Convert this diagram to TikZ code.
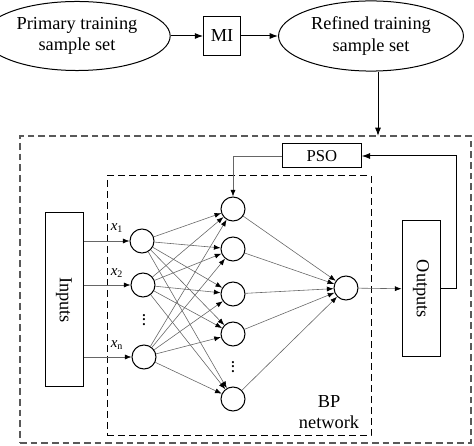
\documentclass[tikz,border=0pt]{standalone}
\usepackage{fontspec}
\setmainfont{Liberation Serif}
\usetikzlibrary{shapes.geometric,arrows.meta}
\newcommand{\dotcol}{\vbox{\baselineskip=2.8pt\lineskiplimit=-5pt\hbox{\textbf{.}}\hbox{\textbf{.}}\hbox{\textbf{.}}}}

\begin{document}
\begin{tikzpicture}[x=0.6pt,y=-0.6pt,font=\fontsize{11}{13}\selectfont,
    neuron/.style={draw,circle,inner sep=0pt,minimum size=14.4pt,line width=0.6pt},
    set/.style={draw,ellipse,align=center,minimum width=90pt,minimum height=40.8pt,line width=0.6pt},
    blk/.style={draw,line width=0.6pt,inner sep=0pt},
    link/.style={-{Latex[length=4pt,width=3pt,black]},gray!80!black,line width=0.35pt},
    flow/.style={-{Latex[length=5pt,width=3.6pt]},line width=0.6pt}]
    \useasboundingbox (0,0) rectangle (474,446);
    % data preparation
    \node[set] (p) at (77,36) {Primary training\\sample set};
    \node[blk,minimum width=22pt,minimum height=23pt] (mi) at (222,36) {MI};
    \node[set] (r) at (371,36) {Refined training\\sample set};
    \draw[flow] (p) to (mi);
    \draw[flow] (mi) to (r);
    % frames
    \node[draw,dashed,dash pattern=on 4pt off 2.4pt,line width=1.1pt,gray!70!black,minimum width=270.6pt,minimum height=184.2pt] (frame) at (245.5,289.5) {};
    \node[draw,dashed,dash pattern=on 4pt off 2.6pt,line width=0.6pt,minimum width=158.4pt,minimum height=156pt] (bp) at (239,306) {};
    \coordinate (top) at (378,136);
    \draw[flow] (r.south -| top) to (top);
    \node[align=center] (bpl) at (329,412) {BP\\network};
    % boxes
    \node[blk,minimum width=22.8pt,minimum height=104.4pt] (in) at (64,300) {\rotatebox{-90}{Inputs}};
    \node[blk,minimum width=22.8pt,minimum height=81.6pt] (out) at (421,289) {\rotatebox{-90}{Outputs}};
    \node[blk,minimum width=47pt,minimum height=14.4pt,font=\fontsize{10}{12}\selectfont] (pso) at (322,156) {PSO};
    % neurons
    \node[neuron] (i1) at (142,241) {};
    \node[neuron] (i2) at (143,285) {};
    \node[neuron] (i3) at (144,357) {};
    \node[neuron] (h1) at (233,209) {};
    \node[neuron] (h2) at (233,249) {};
    \node[neuron] (h3) at (233,294) {};
    \node[neuron] (h4) at (233,334) {};
    \node[neuron] (h5) at (233,399) {};
    \node[neuron] (o) at (346,288) {};
    \node[inner sep=0pt,font=\fontsize{8}{8}\selectfont] (d1) at (144,320) {\dotcol};
    \node[inner sep=0pt,font=\fontsize{8}{8}\selectfont] (d2) at (233,367) {\dotcol};
    % input labels
    \node[font=\fontsize{9}{10}\selectfont] (x1) at (117,228) {\textit{x}\textsubscript{1}};
    \node[font=\fontsize{9}{10}\selectfont] (x2) at (117,273) {\textit{x}\textsubscript{2}};
    \node[font=\fontsize{9}{10}\selectfont] (xn) at (117,345) {\textit{x}\textsubscript{n}};
    \draw[link] (in.east |- i1) to (i1);
    \draw[link] (in.east |- i2) to (i2);
    \draw[link] (in.east |- i3) to (i3);
    % connections
    \foreach \i in {1,2,3}
        \foreach \j in {1,...,5}
            \draw[link] (i\i) to (h\j);
    \foreach \j in {1,...,5}
        \draw[link] (h\j) to (o);
    \draw[link] (o) to (out);
    \draw[link] (pso.west) -| (h1.north);
    \draw[flow] (out.east) -- ++(16,0) |- (pso.east);
\end{tikzpicture}
\end{document}
